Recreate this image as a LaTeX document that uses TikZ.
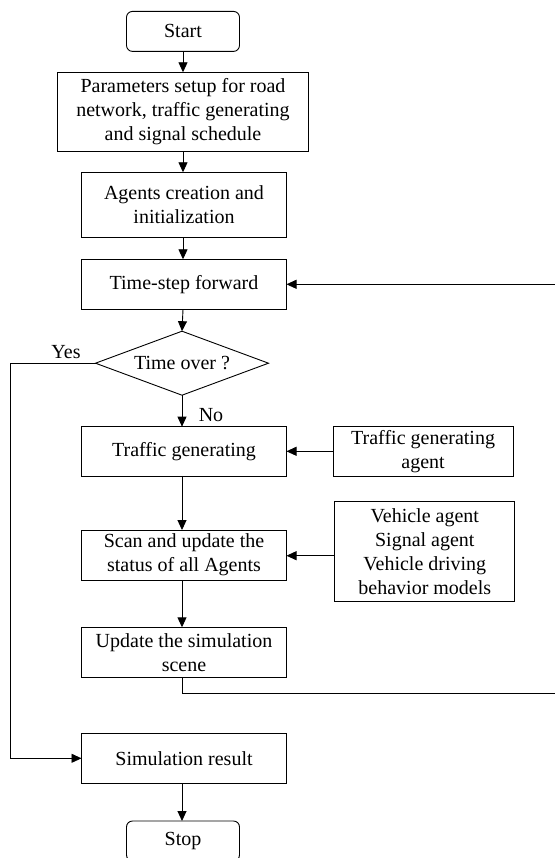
\documentclass[tikz,border=0pt]{standalone}
\usepackage{fontspec}
\setmainfont{Liberation Serif}
\usetikzlibrary{arrows.meta,shapes.geometric}
\begin{document}
\begin{tikzpicture}[x=1pt,y=-1pt,
  font=\fontsize{20}{24}\selectfont,
  every node/.style={inner sep=0pt, outer sep=0pt},
  stepbox/.style={draw, line width=0.9pt, minimum width=205pt, align=center},
  sidebox/.style={draw, line width=0.9pt, minimum width=180pt, align=center},
  termbox/.style={draw, line width=0.9pt, rounded corners=6pt, minimum width=113pt, minimum height=40pt},
  decbox/.style={draw, line width=0.9pt, shape=diamond, aspect=2.7, minimum width=173pt, minimum height=64pt},
  flow/.style={line width=0.9pt, -{Triangle[length=10pt,width=9pt]}},
  plain/.style={line width=0.9pt}]
\useasboundingbox (0,0) rectangle (554,858);

% main column
\node[termbox] (start) at (183,31.4) {Start};
\node[stepbox, minimum width=250.5pt, minimum height=79.4pt] (param) at (183,112)
  {Parameters setup for road\\network, traffic generating\\and signal schedule};
\node[stepbox, minimum height=65.4pt] (agents) at (184,205) {Agents creation and\\initialization};
\node[stepbox, minimum height=50pt] (tstep) at (184,284.3) {Time-step forward};
\node[decbox] (over) at (182,363.2) {Time over ?};
\node[stepbox, minimum height=49.3pt] (tgen) at (184,451.3) {Traffic generating};
\node[stepbox, minimum height=50.3pt] (scan) at (184,555.2) {Scan and update the\\status of all Agents};
\node[stepbox, minimum height=50pt] (upd) at (184,652.3) {Update the simulation\\scene};
\node[stepbox, minimum height=50pt] (res) at (184,758.3) {Simulation result};
\node[termbox] (stop) at (183,841) {Stop};

% agents feeding the loop
\node[sidebox, minimum height=49.3pt] (tagent) at (423.1,451.3) {Traffic generating\\agent};
\node[sidebox, minimum height=100pt] (vagent) at (424.8,551.7)
  {Vehicle agent\\Signal agent\\Vehicle driving\\behavior models};

% branch labels
\node (yes) at (66,352) {Yes};
\node (no) at (211,415) {No};

% helper points for the loop and the exit branch
\coordinate (yl) at (10,363.2);
\coordinate (fb) at (557,693.3);

% connectors
\draw[flow] (start.south) -- (start.south |- param.north);
\draw[flow] (param.south -| start.south) -- (start.south |- agents.north);
\draw[flow] (start.south |- agents.south) -- (start.south |- tstep.north);
\draw[flow] (start.south |- tstep.south) -- (over.north);
\draw[flow] (over.south) -- (over.south |- tgen.north);
\draw[plain] (over.south |- tgen.south) -- ++(0,25);
\draw[flow] (over.south |- tgen.south) ++(0,25) -- (over.south |- scan.north);
\draw[flow] (over.south |- scan.south) -- (over.south |- upd.north);
\draw[flow] (over.south |- res.south) -- (over.south |- stop.north);
\draw[flow] (tagent.west) -- (tgen.east);
\draw[flow] (vagent.west |- 0,555.7) -- (scan.east |- 0,555.7);
\draw[flow] (over.west) -- (yl) |- (res.west);
\draw[flow] (over.south |- upd.south) |- (fb) |- (tstep.east);
\end{tikzpicture}
\end{document}
